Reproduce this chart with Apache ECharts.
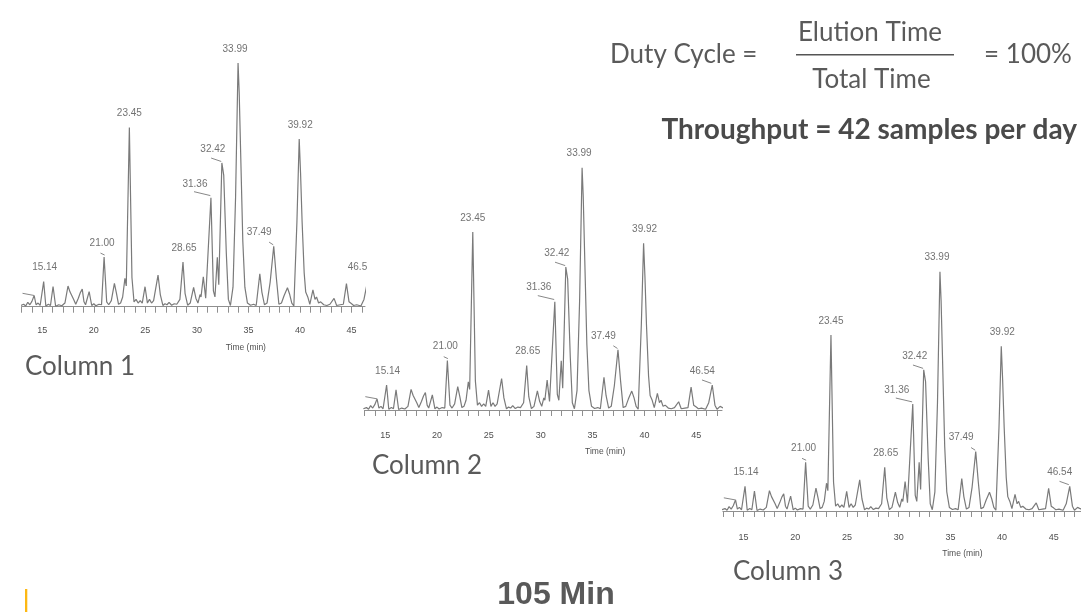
<!DOCTYPE html>
<html>
<head>
<meta charset="utf-8">
<script src="https://cdn.jsdelivr.net/npm/echarts@6/dist/echarts.min.js"></script>
<style>
html,body{margin:0;padding:0;background:#fff;}
#chart{width:1081px;height:612px;}
</style>
</head>
<body>
<div id="chart"></div>
<script>
// ---- Data (retention time in min, relative intensity) ----
const TIME = [12.9,13.2,13.4,13.6,13.8,14.0,14.22,14.4,14.6,14.8,15.14,15.35,15.6,15.8,16.05,16.3,16.6,16.9,17.2,17.5,17.7,17.85,18.05,18.25,18.5,18.7,18.88,19.05,19.2,19.55,19.8,20.0,20.2,20.5,20.75,21.0,21.25,21.45,21.7,22.0,22.2,22.4,22.6,22.8,23.02,23.15,23.45,23.7,23.9,24.1,24.3,24.5,24.7,24.97,25.2,25.4,25.6,25.8,26.23,26.45,26.7,26.9,27.1,27.3,27.55,27.8,28.05,28.35,28.65,28.85,29.1,29.35,29.68,29.9,30.1,30.3,30.4,30.62,30.85,31.0,31.36,31.6,31.75,31.98,32.12,32.42,32.6,32.85,33.05,33.25,33.5,33.75,33.99,34.1,34.3,34.45,34.65,34.9,35.2,35.5,35.75,36.1,36.3,36.55,36.8,37.1,37.45,37.7,37.95,38.2,38.45,38.78,39.0,39.2,39.4,39.7,39.92,40.05,40.2,40.4,40.55,40.75,40.95,41.25,41.45,41.6,41.8,42.0,42.3,42.6,42.9,43.3,43.55,43.9,44.2,44.5,44.75,45.0,45.2,45.5,45.9,46.2,46.54,46.8,47.0,47.3,47.6,47.8];
const SIGNAL = [0.5,1.0,0.3,1.8,0.8,2.2,4.6,0.8,1.5,0.5,10.3,0.3,1.0,0.5,8.3,0.2,0.8,0.4,1.5,8.5,6.0,6.8,3.0,1.0,3.5,5.8,7.2,2.0,0.8,6.2,0.5,1.2,0.4,1.0,0.8,20.4,2.0,0.8,2.5,9.6,5.5,1.0,1.5,4.0,11.6,8.5,73.5,12.0,2.0,3.0,1.5,2.5,1.5,8.2,1.5,3.0,1.5,2.5,13.0,5.0,0.5,1.2,0.8,1.8,0.6,1.2,1.0,3.0,18.3,5.5,0.6,1.5,7.9,3.5,1.5,5.0,4.0,12.3,3.5,3.0,44.7,6.5,4.0,20.3,9.0,59.0,54.0,22.0,3.0,0.5,8.0,45.0,100,88,53,27,8.0,1.5,0.6,1.0,0.5,13.5,6.0,0.8,1.5,10.0,24.8,12.0,1.0,1.5,4.5,7.8,5.0,1.5,0.3,35.0,68.8,55,35,14,6.0,4.0,1.0,6.9,3.0,4.0,1.5,2.0,0.8,0.5,1.0,3.4,0.5,0.8,1.0,9.5,2.0,1.2,0.5,0.8,0.3,3.0,10.3,2.0,0.3,1.5,0.8,1.5];

// labelled peaks
const PEAK_TIMES   = [15.14, 21.00, 23.45, 28.65, 31.36, 32.42, 33.99, 37.49, 39.92, 46.54];
const PEAK_HEIGHTS = [10.3, 20.4, 73.5, 18.3, 44.7, 59.0, 100, 24.8, 68.8, 10.3];

// leader lines of peak labels: [t1, I1, t2, I2]
const LEADERS = [
  [13.09, 5.5, 14.22, 4.6],
  [20.65, 22.0, 21.05, 21.2],
  [29.72, 47.2, 31.30, 45.6],
  [31.38, 61.0, 32.36, 59.6],
  [37.00, 26.5, 37.40, 25.4],
  [45.55, 12.4, 46.45, 11.0]
];

// axis ticks
const TICK_VALUES  = [13,14,15,16,17,18,19,20,21,22,23,24,25,26,27,28,29,30,31,32,33,34,35,36,37,38,39,40,41,42,43,44,45,46,47];
const LABEL_VALUES = [15,20,25,30,35,40,45];

const COLUMN_NAMES = ['Column 1','Column 2','Column 3'];

// ---- layout / style (pixels) ----
const PANELS = [
  {left:21.6,  top:63,    width:343.4, height:249.7, xMax:46.3,  yMin:-2.46, labelMargin:13, nameGap:30, namePad:105},
  {left:364.4, top:167.7, width:357.6, height:248.3, xMax:47.48, yMin:-2.48, labelMargin:15, nameGap:31, namePad:124},
  {left:722.9, top:271.7, width:358.1, height:244.3, xMax:47.63, yMin:-2.1,  labelMargin:17, nameGap:33, namePad:121}
];
const LABEL_DX = {'15.14':1,'21.00':-2,'23.45':0,'28.65':1,'31.36':-16,'32.42':-9,'33.99':-3,'37.49':-15,'39.92':1,'46.54':-10};
const TRACE_COLOR = '#7a7a7a';
const AXIS_COLOR = '#8f8f8f';
const SMALL_TEXT = '#4f4f4f';

const chart = echarts.init(document.getElementById('chart'), null, {renderer:'canvas'});

const line = TIME.map((t,i)=>[t, SIGNAL[i]]);

const grids = [], xAxes = [], yAxes = [], series = [];
PANELS.forEach((p, k) => {
  grids.push({left:p.left, top:p.top, width:p.width, height:p.height, containLabel:false});
  xAxes.push({
    type:'value', gridIndex:k, min:13, max:p.xMax,
    name:'Time (min)', nameLocation:'middle', nameGap:p.nameGap,
    nameTextStyle:{fontFamily:'Liberation Sans', fontSize:8.5, color:SMALL_TEXT, padding:[0,0,0,p.namePad]},
    axisLine:{show:true, lineStyle:{color:AXIS_COLOR, width:1}},
    axisTick:{show:true, length:6, customValues:TICK_VALUES, lineStyle:{color:AXIS_COLOR, width:1}},
    axisLabel:{show:true, customValues:LABEL_VALUES, margin:p.labelMargin, fontFamily:'Liberation Sans', fontSize:9, color:SMALL_TEXT},
    splitLine:{show:false}
  });
  yAxes.push({type:'value', gridIndex:k, min:p.yMin, max:100, show:false, splitLine:{show:false}});
  series.push({
    type:'line', xAxisIndex:k, yAxisIndex:k, data:line, showSymbol:false, symbol:'none',
    lineStyle:{color:TRACE_COLOR, width:1.2}, clip:true, animation:false, silent:true,
    markLine:{
      silent:true, symbol:['none','none'], animation:false,
      lineStyle:{color:'#888', width:1, type:'solid'}, label:{show:false},
      data: LEADERS.map(l => [{coord:[l[0], l[1]]},{coord:[l[2], l[3]]}])
    }
  });
  series.push({
    type:'scatter', xAxisIndex:k, yAxisIndex:k, symbolSize:0, clip:false, animation:false, silent:true,
    data: PEAK_TIMES.map((t,i)=>{
      const txt = t.toFixed(2);
      const item = {value:[t, PEAK_HEIGHTS[i]], name:txt,
        label:{show:true, position:'top', distance:9, offset:[LABEL_DX[txt],0],
          formatter:'{b}', fontFamily:'Liberation Sans', fontSize:10, color:SMALL_TEXT}};
      if (t > p.xMax) {
        item.label.width = 24; item.label.overflow = 'truncate'; item.label.ellipsis = '';
      }
      return item;
    })
  });
});

const BIG = 'Lato, "Open Sans", sans-serif';
const graphic = [
  {type:'text', x:610, y:55, style:{text:'Duty Cycle =', font:'26px '+BIG, fill:'#5a5a5a', textAlign:'left', textVerticalAlign:'middle'}},
  {type:'text', x:870, y:33, style:{text:'Elution Time', font:'26px '+BIG, fill:'#5a5a5a', textAlign:'center', textVerticalAlign:'middle'}},
  {type:'line', shape:{x1:796, y1:54.7, x2:954, y2:54.7}, style:{stroke:'#555', lineWidth:1.5}},
  {type:'text', x:871.5, y:80, style:{text:'Total Time', font:'26px '+BIG, fill:'#5a5a5a', textAlign:'center', textVerticalAlign:'middle'}},
  {type:'text', x:1028, y:55, style:{text:'= 100%', font:'26px '+BIG, fill:'#5a5a5a', textAlign:'center', textVerticalAlign:'middle'}},
  {type:'text', x:1077, y:130, style:{text:'Throughput = 42 samples per day', font:'bold 28px '+BIG, fill:'#4a4a4a', textAlign:'right', textVerticalAlign:'middle'}},
  {type:'text', x:25, y:367, style:{text:COLUMN_NAMES[0], font:'26px '+BIG, fill:'#5a5a5a', textAlign:'left', textVerticalAlign:'middle'}},
  {type:'text', x:372, y:466, style:{text:COLUMN_NAMES[1], font:'26px '+BIG, fill:'#5a5a5a', textAlign:'left', textVerticalAlign:'middle'}},
  {type:'text', x:733, y:572, style:{text:COLUMN_NAMES[2], font:'26px '+BIG, fill:'#5a5a5a', textAlign:'left', textVerticalAlign:'middle'}},
  {type:'text', x:556, y:611, style:{text:'105 Min', font:'bold 32px "Liberation Sans", Arial, sans-serif', fill:'#595959', textAlign:'center', textVerticalAlign:'bottom'}},
  {type:'rect', shape:{x:25, y:589, width:2.3, height:23}, style:{fill:'#fdb813'}}
];

chart.setOption({
  animation:false,
  backgroundColor:'#ffffff',
  grid:grids, xAxis:xAxes, yAxis:yAxes, series:series, graphic:graphic
});
</script>
</body>
</html>
